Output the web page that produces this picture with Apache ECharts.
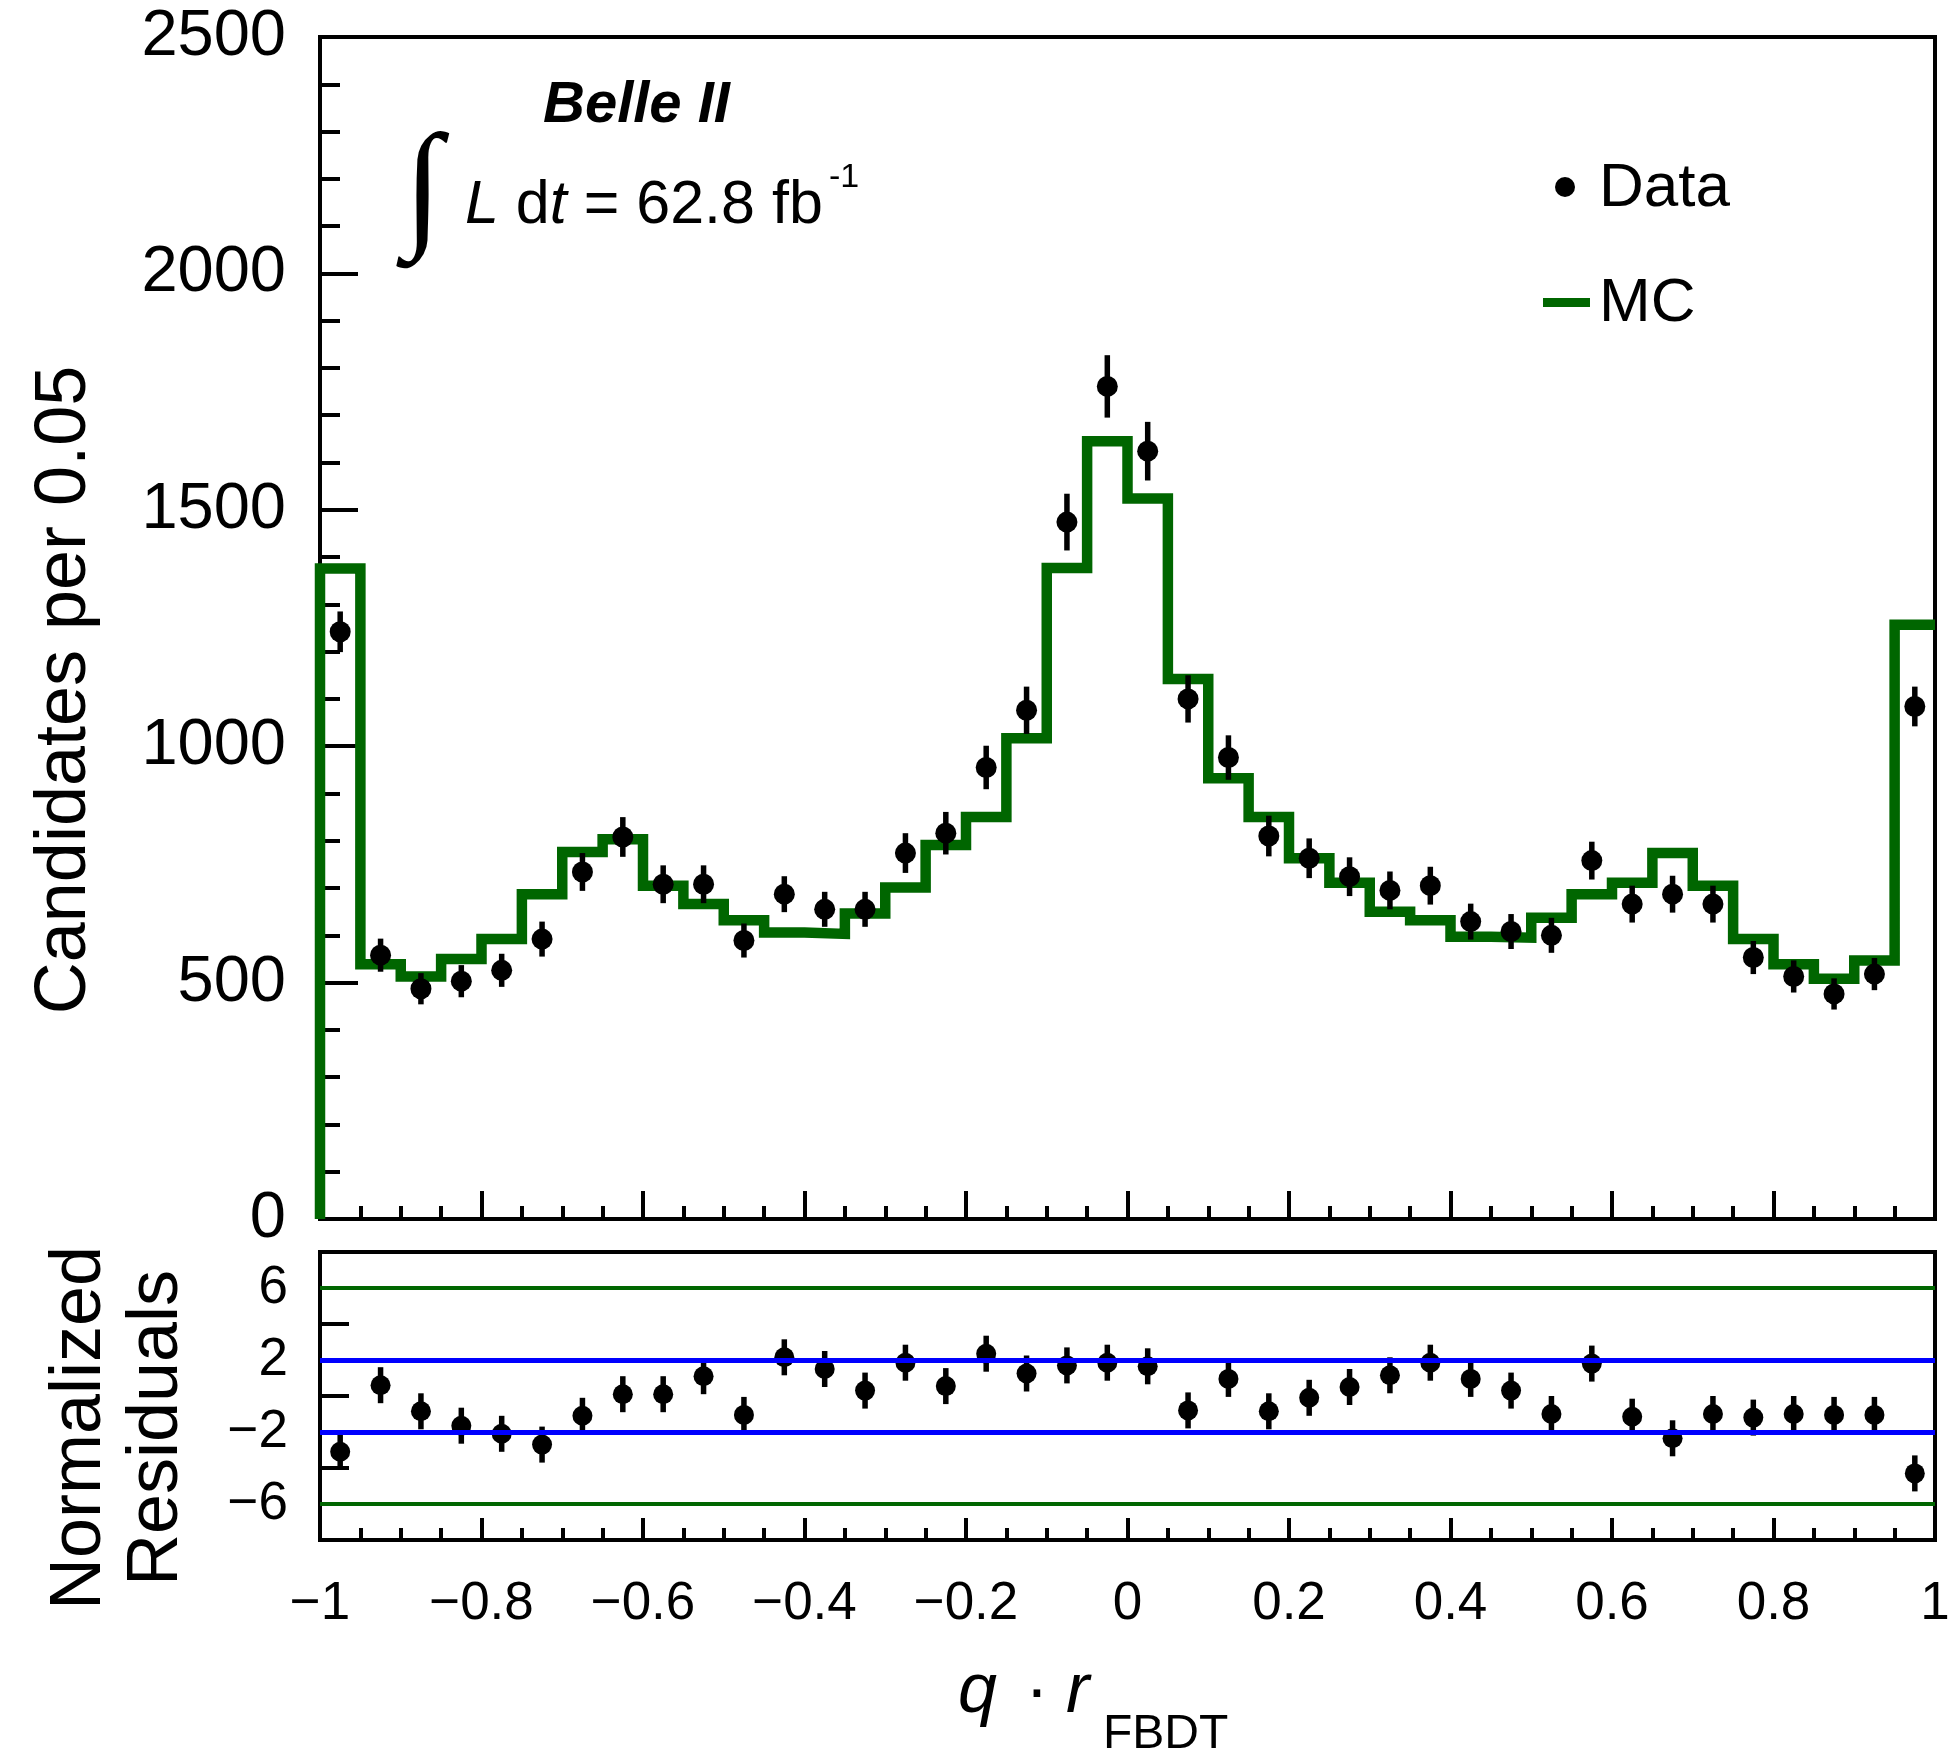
<!DOCTYPE html>
<html>
<head>
    <meta charset="utf-8">
    <script src="https://cdn.jsdelivr.net/npm/echarts@6/dist/echarts.min.js"></script>
    <style>html, body { margin: 0; padding: 0; background: #fff; }</style>
</head>
<body>
    <div id="main" style="width: 1951px; height: 1760px"></div>

    <script type="text/javascript">
        // q * r_FBDT, 40 bins of width 0.05
        var binWidth = 0.05;
        var binCenters = [-0.975, -0.925, -0.875, -0.825, -0.775, -0.725, -0.675, -0.625, -0.575, -0.525,
                          -0.475, -0.425, -0.375, -0.325, -0.275, -0.225, -0.175, -0.125, -0.075, -0.025,
                           0.025,  0.075,  0.125,  0.175,  0.225,  0.275,  0.325,  0.375,  0.425,  0.475,
                           0.525,  0.575,  0.625,  0.675,  0.725,  0.775,  0.825,  0.875,  0.925,  0.975];
        var dataCounts = [1242, 558, 487, 503, 526, 592, 734, 808, 708, 708,
                          589, 687, 655, 655, 774, 816, 955, 1076, 1474, 1761,
                          1624, 1100, 976, 810, 763, 724, 695, 705, 629, 608,
                          600, 758, 666, 687, 666, 553, 513, 476, 518, 1084];
        var dataErrors = [43, 35, 33, 34, 35, 37, 40, 42, 40, 40,
                          36, 38, 37, 37, 42, 45, 46, 50, 60, 66,
                          62, 50, 47, 43, 42, 41, 40, 40, 38, 37,
                          37, 40, 39, 39, 39, 35, 34, 33, 34, 42];
        var mcCounts = [1376, 539, 513, 550, 592, 687, 776, 803, 705, 666,
                        632, 606, 603, 646, 701, 791, 850, 1017, 1377, 1645,
                        1524, 1142, 932, 850, 763, 711, 650, 632, 597, 595,
                        637, 687, 711, 774, 705, 592, 539, 508, 547, 1257];
        var residuals = [-3.1, 0.6, -0.85, -1.65, -2.1, -2.7, -1.1, 0.1, 0.1, 1.1,
                         -1.05, 2.15, 1.5, 0.3, 1.85, 0.55, 2.35, 1.25, 1.7, 1.85,
                         1.65, -0.8, 0.95, -0.85, -0.1, 0.5, 1.15, 1.85, 0.95, 0.3,
                         -1.0, 1.8, -1.15, -2.35, -1.0, -1.2, -1.0, -1.05, -1.05, -4.3];
        var residualErrors = [1, 1, 1, 1, 1, 1, 1, 1, 1, 1, 1, 1, 1, 1, 1, 1, 1, 1, 1, 1,
                              1, 1, 1, 1, 1, 1, 1, 1, 1, 1, 1, 1, 1, 1, 1, 1, 1, 1, 1, 1];
        var residualBands = [2, 6];

        var FONT = 'Liberation Sans';
        var GREEN = '#006600';

        var pts = [], errs = [], rpts = [], rerrs = [];
        for (var i = 0; i < binCenters.length; i++) {
            pts.push([binCenters[i], dataCounts[i]]);
            errs.push([binCenters[i], dataCounts[i], dataErrors[i]]);
            rpts.push([binCenters[i], residuals[i]]);
            rerrs.push([binCenters[i], residuals[i], residualErrors[i]]);
        }
        // MC as a step histogram starting from zero at the left edge
        var mcSteps = [[binCenters[0] - binWidth / 2, 0]];
        for (var j = 0; j < mcCounts.length; j++) {
            mcSteps.push([binCenters[j] - binWidth / 2, mcCounts[j]]);
        }
        mcSteps.push([binCenters[binCenters.length - 1] + binWidth / 2, mcCounts[mcCounts.length - 1]]);

        var minus = function (v) { return String(v).replace('-', '\u2212'); };

        var errorBar = function (params, api) {
            var x = api.value(0), y = api.value(1), e = api.value(2);
            var a = api.coord([x, y + e]);
            var b = api.coord([x, y - e]);
            return {
                type: 'line',
                shape: { x1: a[0], y1: a[1], x2: b[0], y2: b[1] },
                style: { stroke: '#000', lineWidth: 5.5 }
            };
        };

        var bandLines = [];
        residualBands.forEach(function (v) {
            var col = v === 2 ? '#0000ff' : GREEN;
            var w = v === 2 ? 5 : 4;
            bandLines.push({ yAxis: v, lineStyle: { color: col, width: w, type: 'solid' } });
            bandLines.push({ yAxis: -v, lineStyle: { color: col, width: w, type: 'solid' } });
        });

        var txt = function (x, y, text, size, extra) {
            var s = { text: text, fontSize: size, fontFamily: FONT, fill: '#000', align: 'left', verticalAlign: 'middle' };
            for (var k in extra) s[k] = extra[k];
            return { type: 'text', x: x, y: y, style: s };
        };

        var noLine = { show: false, onZero: false };

        var chart = echarts.init(document.getElementById('main'));
        var option = {
            animation: false,
            backgroundColor: '#fff',
            grid: [
                { left: 320, top: 37, width: 1615, height: 1182, show: true, borderColor: '#000', borderWidth: 4,
                  containLabel: false, outerBoundsMode: 'none' },
                { left: 320, top: 1252, width: 1615, height: 288, show: true, borderColor: '#000', borderWidth: 4,
                  containLabel: false, outerBoundsMode: 'none' }
            ],
            xAxis: [{
                gridIndex: 0, type: 'value', position: 'bottom', min: -1, max: 1, interval: 0.2,
                axisLine: noLine,
                axisTick: { inside: true, length: 28, lineStyle: { color: '#000', width: 4 } },
                minorTick: { show: true, splitNumber: 4, length: 13, lineStyle: { color: '#000', width: 4 } },
                axisLabel: { show: false },
                splitLine: { show: false }
            }, {
                gridIndex: 1, type: 'value', position: 'bottom', min: -1, max: 1, interval: 0.2,
                axisLine: noLine,
                axisTick: { inside: true, length: 22, lineStyle: { color: '#000', width: 4 } },
                minorTick: { show: true, splitNumber: 4, length: 12, lineStyle: { color: '#000', width: 4 } },
                axisLabel: { margin: 38, fontSize: 53, fontFamily: FONT, color: '#000', formatter: minus },
                splitLine: { show: false }
            }],
            yAxis: [{
                gridIndex: 0, type: 'value', position: 'left', min: 0, max: 2500, interval: 500,
                axisLine: noLine,
                axisTick: { inside: true, length: 38, lineStyle: { color: '#000', width: 4 } },
                minorTick: { show: true, splitNumber: 5, length: 20, lineStyle: { color: '#000', width: 4 } },
                axisLabel: { margin: 34, fontSize: 65, fontFamily: FONT, color: '#000',
                             formatter: function (v) { return String(v); } },
                splitLine: { show: false }
            }, {
                gridIndex: 1, type: 'value', position: 'left', min: -8, max: 8, interval: 4,
                axisLine: noLine,
                axisTick: { inside: true, length: 29, lineStyle: { color: '#000', width: 4 } },
                axisLabel: { show: false },
                splitLine: { show: false }
            }, {
                gridIndex: 1, type: 'value', position: 'left', min: -8, max: 8, interval: 2,
                axisLine: noLine,
                axisTick: { show: false },
                axisLabel: {
                    margin: 32, fontSize: 53, fontFamily: FONT, color: '#000',
                    formatter: function (v) {
                        return (Math.abs(v) === 2 || Math.abs(v) === 6) ? minus(v) : '';
                    }
                },
                splitLine: { show: false }
            }],
            series: [{
                name: 'MC',
                type: 'line',
                xAxisIndex: 0, yAxisIndex: 0,
                step: 'end',
                showSymbol: false,
                data: mcSteps,
                lineStyle: { color: GREEN, width: 10.5, join: 'miter', cap: 'butt' },
                z: 2
            }, {
                name: 'DataErr',
                type: 'custom',
                xAxisIndex: 0, yAxisIndex: 0,
                renderItem: errorBar,
                encode: { x: 0, y: 1 },
                data: errs,
                z: 3
            }, {
                name: 'Data',
                type: 'scatter',
                xAxisIndex: 0, yAxisIndex: 0,
                symbol: 'circle', symbolSize: 21,
                itemStyle: { color: '#000', opacity: 1 },
                data: pts,
                z: 4
            }, {
                name: 'ResErr',
                type: 'custom',
                xAxisIndex: 1, yAxisIndex: 1,
                renderItem: errorBar,
                encode: { x: 0, y: 1 },
                data: rerrs,
                z: 3
            }, {
                name: 'Residuals',
                type: 'scatter',
                xAxisIndex: 1, yAxisIndex: 1,
                symbol: 'circle', symbolSize: 20,
                itemStyle: { color: '#000', opacity: 1 },
                data: rpts,
                markLine: { silent: true, symbol: ['none', 'none'], label: { show: false }, data: bandLines },
                z: 4
            }],
            graphic: [
                txt(543, 106, 'Belle II', 58, { fontWeight: 'bold', fontStyle: 'italic' }),
                txt(423, 194, '\u222B', 140, { fontFamily: 'Liberation Serif', align: 'center' }),
                txt(465, 206, '{i|L} d{i|t} = 62.8 fb', 61, {
                    rich: { i: { fontStyle: 'italic', fontSize: 61, fontFamily: FONT } }
                }),
                txt(829, 178, '-1', 34),
                { type: 'circle', shape: { cx: 1565, cy: 187, r: 10 }, style: { fill: '#000' } },
                txt(1599, 189, 'Data', 62),
                { type: 'rect', shape: { x: 1543, y: 298, width: 47, height: 9 }, style: { fill: GREEN } },
                txt(1599, 304, 'MC', 62),
                txt(65, 690, 'Candidates per 0.05', 72, { align: 'center' }),
                txt(80, 1428, 'Normalized', 72, { align: 'center' }),
                txt(157, 1428, 'Residuals', 72, { align: 'center' }),
                txt(958, 1693, 'q', 70, { fontStyle: 'italic' }),
                txt(1037, 1693, '\u00B7', 70, { align: 'center' }),
                txt(1066, 1693, 'r', 70, { fontStyle: 'italic' }),
                txt(1103, 1735, 'FBDT', 48)
            ]
        };
        // the three rotated axis titles
        option.graphic[8].rotation = Math.PI / 2;
        option.graphic[9].rotation = Math.PI / 2;
        option.graphic[10].rotation = Math.PI / 2;

        chart.setOption(option);
    </script>
</body>
</html>
